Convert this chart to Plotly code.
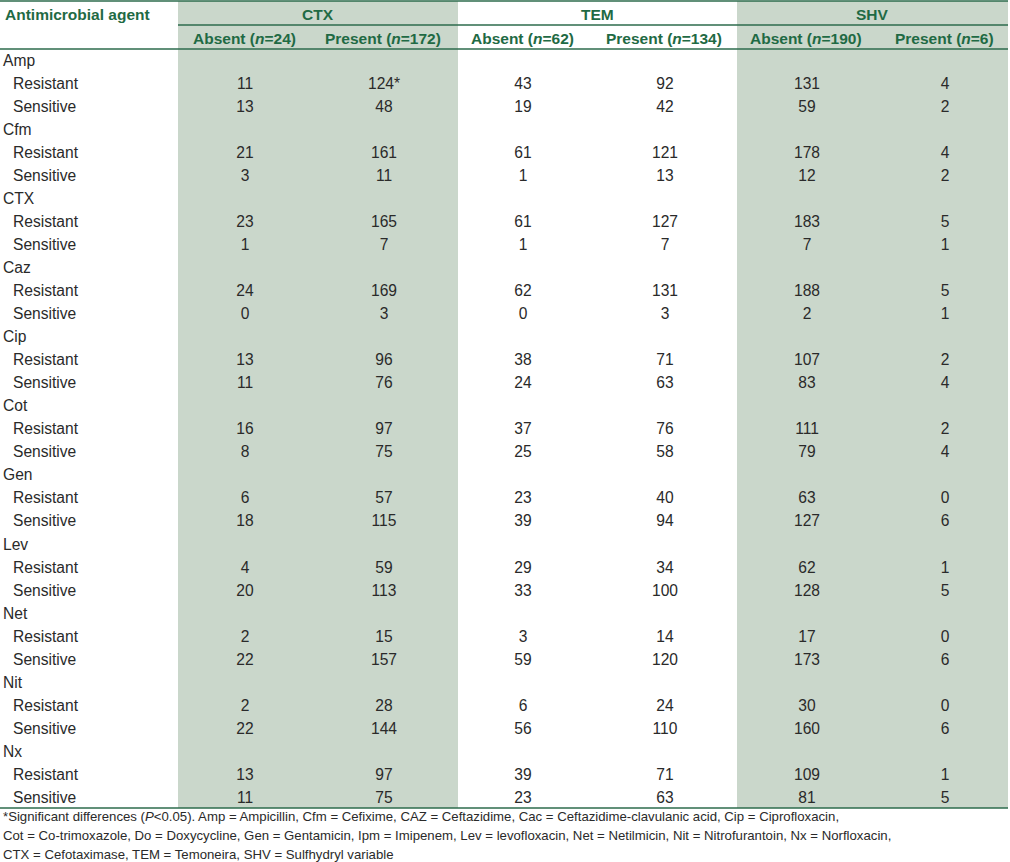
import plotly.graph_objects as go

# ---------------- data ----------------
drugs = ["Amp", "Cfm", "CTX", "Caz", "Cip", "Cot", "Gen", "Lev", "Net", "Nit", "Nx"]
outcomes = ["Resistant", "Sensitive"]
groups = ["CTX", "TEM", "SHV"]
sub_headers = ["Absent (<i>n</i>=24)", "Present (<i>n</i>=172)",
               "Absent (<i>n</i>=62)", "Present (<i>n</i>=134)",
               "Absent (<i>n</i>=190)", "Present (<i>n</i>=6)"]

ctx_absent_res = [11, 21, 23, 24, 13, 16, 6, 4, 2, 2, 13]
ctx_absent_sen = [13, 3, 1, 0, 11, 8, 18, 20, 22, 22, 11]
ctx_present_res = [124, 161, 165, 169, 96, 97, 57, 59, 15, 28, 97]
ctx_present_sen = [48, 11, 7, 3, 76, 75, 115, 113, 157, 144, 75]
tem_absent_res = [43, 61, 61, 62, 38, 37, 23, 29, 3, 6, 39]
tem_absent_sen = [19, 1, 1, 0, 24, 25, 39, 33, 59, 56, 23]
tem_present_res = [92, 121, 127, 131, 71, 76, 40, 34, 14, 24, 71]
tem_present_sen = [42, 13, 7, 3, 63, 58, 94, 100, 120, 110, 63]
shv_absent_res = [131, 178, 183, 188, 107, 111, 63, 62, 17, 30, 109]
shv_absent_sen = [59, 12, 7, 2, 83, 79, 127, 128, 173, 160, 81]
shv_present_res = [4, 4, 5, 5, 2, 2, 0, 1, 0, 0, 1]
shv_present_sen = [2, 2, 1, 1, 4, 4, 6, 5, 6, 6, 5]
# significance flags (column index, drug index, outcome)
significant = [(1, 0, "Resistant")]

footnote = [
    "*Significant differences (<i>P</i>&lt;0.05). Amp = Ampicillin, Cfm = Cefixime, CAZ = Ceftazidime, Cac = Ceftazidime-clavulanic acid, Cip = Ciprofloxacin,",
    "Cot = Co-trimoxazole, Do = Doxycycline, Gen = Gentamicin, Ipm = Imipenem, Lev = levofloxacin, Net = Netilmicin, Nit = Nitrofurantoin, Nx = Norfloxacin,",
    "CTX = Cefotaximase, TEM = Temoneira, SHV = Sulfhydryl variable",
]

columns = [
    (ctx_absent_res, ctx_absent_sen),
    (ctx_present_res, ctx_present_sen),
    (tem_absent_res, tem_absent_sen),
    (tem_present_res, tem_present_sen),
    (shv_absent_res, shv_absent_sen),
    (shv_present_res, shv_present_sen),
]

# ---------------- layout geometry ----------------
W, H = 1010, 862
col_edges = [178, 458, 737, 1008]          # group boundaries
col_centers = [245, 384, 523, 665, 807, 945]
row0, pitch = 62, 23.03
top_line, mid_line, head_line = 1, 25, 49
bottom_line = 808

GREEN = "#1f6a44"
LINE = "#2d6b4c"
SHADE = "#cad7cb"
TXT = "#2a2a2a"
FONT = "Liberation Sans, Arial, Helvetica, sans-serif"

fig = go.Figure()

shapes = []
# shaded column groups
for gi in (0, 2):
    shapes.append(dict(type="rect", xref="x", yref="y",
                       x0=col_edges[gi], x1=col_edges[gi + 1],
                       y0=top_line, y1=bottom_line,
                       fillcolor=SHADE, line=dict(width=0), layer="below"))
# rules
for y, x0 in [(top_line, 0), (mid_line, col_edges[0]), (head_line, 0), (bottom_line, 0)]:
    shapes.append(dict(type="line", xref="x", yref="y", x0=x0, x1=col_edges[-1],
                       y0=y, y1=y, line=dict(color=LINE, width=1.6)))

# row labels
label_x, label_y, label_t = [], [], []
val_x = {c: [] for c in range(6)}
val_y = {c: [] for c in range(6)}
val_t = {c: [] for c in range(6)}
r = 0
for di, d in enumerate(drugs):
    label_x.append(3); label_y.append(row0 + pitch * r); label_t.append(d)
    r += 1
    for oi, o in enumerate(outcomes):
        y = row0 + pitch * r
        label_x.append(13); label_y.append(y); label_t.append(o)
        for c in range(6):
            v = columns[c][oi][di]
            t = str(v)
            if (c, di, o) in significant:
                t += "*"
            val_x[c].append(col_centers[c]); val_y[c].append(y); val_t[c].append(t)
        r += 1

fig.add_trace(go.Scatter(x=label_x, y=label_y, text=label_t, mode="text",
                         textposition="middle right",
                         textfont=dict(family=FONT, size=15.6, color=TXT),
                         hoverinfo="skip", showlegend=False))
for c in range(6):
    fig.add_trace(go.Scatter(x=val_x[c], y=val_y[c], text=val_t[c], mode="text",
                             textposition="middle center",
                             textfont=dict(family=FONT, size=15.6, color=TXT),
                             hoverinfo="skip", showlegend=False))

annotations = []
annotations.append(dict(x=3, y=14, xref="x", yref="y", text="<b>Antimicrobial agent</b>",
                        showarrow=False, xanchor="left", yanchor="middle",
                        font=dict(family=FONT, size=15.5, color=GREEN)))
for gi, g in enumerate(groups):
    annotations.append(dict(x=(col_edges[gi] + col_edges[gi + 1]) / 2, y=14, xref="x", yref="y",
                            text=f"<b>{g}</b>", showarrow=False,
                            xanchor="center", yanchor="middle",
                            font=dict(family=FONT, size=15.5, color=GREEN)))
for c, s in enumerate(sub_headers):
    annotations.append(dict(x=col_centers[c] - 1, y=38, xref="x", yref="y",
                            text=f"<b>{s}</b>", showarrow=False,
                            xanchor="center", yanchor="middle",
                            font=dict(family=FONT, size=15.5, color=GREEN)))
for i, line in enumerate(footnote):
    annotations.append(dict(x=1, y=816 + 19 * i, xref="x", yref="y", text=line,
                            showarrow=False, xanchor="left", yanchor="middle",
                            font=dict(family=FONT, size=13.2, color=TXT)))

fig.update_layout(
    width=W, height=H, margin=dict(l=0, r=0, t=0, b=0),
    paper_bgcolor="white", plot_bgcolor="white",
    xaxis=dict(range=[0, W], visible=False, fixedrange=True),
    yaxis=dict(range=[H, 0], visible=False, fixedrange=True),
    shapes=shapes, annotations=annotations,
)

fig.write_html("out.html", config={"displayModeBar": False},
               post_script="document.body.style.margin='0';document.body.style.overflow='hidden';")
